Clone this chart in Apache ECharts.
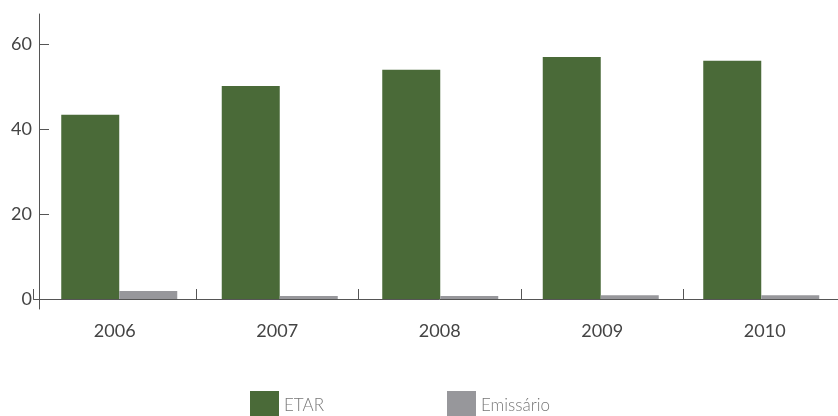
<!DOCTYPE html>
<html>
<head>
<meta charset="utf-8">
<script src="https://cdn.jsdelivr.net/npm/echarts@6/dist/echarts.min.js"></script>
<style>
  html, body { margin: 0; padding: 0; background: #fff; overflow: hidden; }
  /* the plot runs past the right edge of the window, so the canvas is a little wider */
  #chart { width: 860px; height: 416px; }
</style>
</head>
<body>
<div id="chart"></div>
<script>
// Years on the category axis
const years = ['2006', '2007', '2008', '2009', '2010'];
// Values per destination
const etar = [43.3, 50.1, 53.9, 56.9, 56.0];
const emissario = [1.9, 0.7, 0.7, 0.9, 0.9];
// Labelled y ticks
const yTicks = [0, 20, 40, 60];

const GREEN = '#4a6a38';
const GREY = '#97979b';
const AXIS = '#555555';
const FONT = 'Lato';
const Y_MIN = -2.35;
const Y_MAX = 67;

const chart = echarts.init(document.getElementById('chart'), null, { renderer: 'canvas' });

chart.setOption({
  animation: false,
  backgroundColor: '#ffffff',
  grid: [
    // bars and the value axis
    { left: 39, width: 802.5, top: 14, bottom: 107, containLabel: false },
    // year labels and separator ticks
    { left: 33.5, width: 812.5, top: 14, bottom: 107, containLabel: false }
  ],
  legend: [
    {
      data: ['ETAR'], left: 250, top: 391, padding: 0, itemWidth: 29, itemHeight: 29,
      icon: 'rect',
      textStyle: { fontFamily: FONT, fontSize: 17, fontWeight: 300, color: '#777' }
    },
    {
      data: ['Emissário'], left: 447, top: 391, padding: 0, itemWidth: 29, itemHeight: 29,
      icon: 'rect',
      textStyle: { fontFamily: FONT, fontSize: 17, fontWeight: 300, color: '#777' }
    }
  ],
  xAxis: [
    {
      gridIndex: 0,
      type: 'category',
      data: years,
      axisLine: { show: false },
      axisTick: { show: false },
      axisLabel: { show: false },
      splitLine: { show: false }
    },
    {
      gridIndex: 1,
      type: 'category',
      data: years,
      axisLine: { onZero: true, lineStyle: { color: AXIS, width: 1 } },
      axisTick: { show: true, inside: true, length: 10, lineStyle: { color: AXIS } },
      axisLabel: { fontFamily: FONT, fontSize: 18, color: '#444', margin: 13 },
      splitLine: { show: false }
    }
  ],
  yAxis: [
    {
      gridIndex: 0,
      type: 'value',
      min: Y_MIN,
      max: Y_MAX,
      axisLine: { show: true, lineStyle: { color: AXIS, width: 1 } },
      axisTick: { show: true, inside: true, length: 10, customValues: yTicks, lineStyle: { color: AXIS } },
      axisLabel: { fontFamily: FONT, fontSize: 18, color: '#444', margin: 7, customValues: yTicks },
      splitLine: { show: false }
    },
    {
      gridIndex: 1,
      type: 'value',
      min: Y_MIN,
      max: Y_MAX,
      axisLine: { show: false },
      axisTick: { show: false },
      axisLabel: { show: false },
      splitLine: { show: false }
    }
  ],
  series: [
    { name: 'ETAR', type: 'bar', xAxisIndex: 0, yAxisIndex: 0, data: etar, barWidth: 58, barGap: '0%', itemStyle: { color: GREEN } },
    { name: 'Emissário', type: 'bar', xAxisIndex: 0, yAxisIndex: 0, data: emissario, barWidth: 58, barGap: '0%', itemStyle: { color: GREY } }
  ]
});
</script>
</body>
</html>
